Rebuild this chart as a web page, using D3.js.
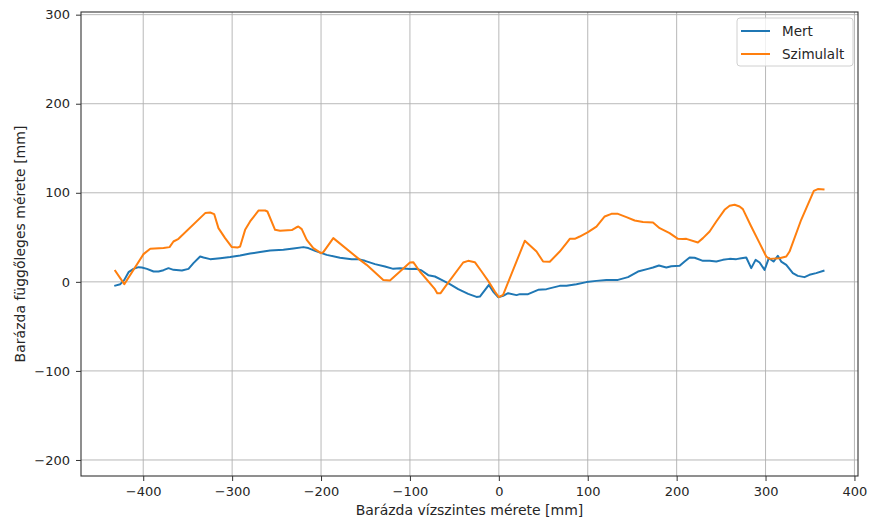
<!DOCTYPE html>
<html>
<head>
<meta charset="utf-8">
<script src="https://cdn.jsdelivr.net/npm/d3@7"></script>
<style>
  body { margin: 0; background: #fff; }
  text { font-family: "DejaVu Sans", sans-serif; fill: #262626; }
</style>
</head>
<body>
<svg id="chart" width="870" height="520"></svg>
<script>
// Data
const mertX = [-431.5,-425.8,-421.3,-416.5,-410.9,-405.3,-401.5,-395.8,-388.4,-382.8,-377.2,-371.6,-366,-356.5,-349.1,-343.5,-336,-332.2,-324.7,-313.5,-302.2,-291,-279.8,-268.5,-257.3,-242.4,-231.1,-219.9,-214.3,-206.7,-193.6,-178.7,-165.5,-158.1,-150.6,-139.3,-128.1,-118.8,-111.2,-100,-92.5,-86.9,-79.4,-71.9,-64.4,-55.1,-45.7,-34.5,-25.1,-21.3,-11.2,-6.4,-0.8,4.8,10.4,19.9,23.6,32.9,44.2,53.6,68.5,76.1,87.3,98.5,109.8,121,134,145.3,156.5,167.8,173.4,180.1,188.4,194,203.4,209,214.6,220.2,229.6,237.1,244.6,252,259.6,267.1,272.7,278.3,283.9,288.8,293.3,298.9,303.7,309,313.8,317.6,323.3,330.7,336.3,343.8,349.4,356.9,365.2];
const mertY = [-4.2,-2.6,2.2,10.9,14.6,16.5,16.1,14.6,11.6,11.6,13.1,15.4,13.5,12.7,14.6,21,28.4,27.3,25.5,26.6,27.8,29.6,31.8,33.4,35.2,36,37.4,39,37.9,34.8,30.3,27,25.5,25.5,23.6,19.9,17.2,14.6,15.4,14.3,14.6,12.7,7.5,6,2.2,-2.6,-8.2,-13.5,-16.9,-16.5,-3.4,-10.9,-17.2,-15.7,-12.7,-14.9,-13.8,-13.8,-9,-8.2,-4.5,-4.5,-2.6,-0.3,1.1,2.2,2.2,5.3,11.6,14.6,16.1,18.3,16.1,17.6,18,22.8,27.3,27,23.6,23.6,22.8,24.7,25.8,25.5,26.6,27.3,15.4,24.7,21.7,13.5,26.6,22.8,29.2,22.8,19.1,9.8,6.7,5.3,7.9,9.8,12.4];

const szimX = [-431.5,-421.3,-399.7,-392.1,-377.2,-370.4,-366,-360.3,-330.3,-324.7,-320.2,-315.4,-307.9,-300.3,-294,-291,-285.4,-279.8,-270.4,-262.9,-260.3,-251.7,-246.1,-232.9,-228.1,-225.5,-221.7,-216.1,-208.7,-200,-197.4,-186.2,-156.2,-148.7,-130,-122.5,-111.2,-100,-96.3,-88.8,-71.9,-69.3,-65.5,-60.7,-40.1,-34.5,-27,-19.4,-12,-4.5,0,4.8,29.2,42.4,49.8,57.3,68.5,76.1,79.8,85.4,91,100.3,109.8,119.1,126.6,134,143.5,152.8,162.1,173.4,180.9,192.1,201.5,207.1,210.9,223.9,229.6,237.1,244.6,253.9,259.6,265.2,270.8,274.5,283.9,293.3,300.8,304.5,315.7,323.3,327,340.1,354.3,358.8,365.2];
const szimY = [12.4,-2.6,31.1,37.1,37.9,39,45.3,48.3,77.2,77.9,76.1,60.3,49.1,39,38.5,39.7,58.4,67.8,80,80.1,79,58.4,57.3,58.1,61,62.1,59.2,47.2,37.9,32.2,33.4,49.1,24.7,19.1,2.2,1.5,11.6,21.7,22.1,11.6,-8.2,-12.7,-12.7,-6,21.7,23.6,22.1,11.6,1.1,-10.9,-17.2,-14.6,46.1,34,22.8,22.5,34,43.5,48.3,48.3,50.9,55.8,62.1,73.4,76.4,76.4,72.7,68.9,67.1,66.6,60.3,54.7,48.3,48,48.3,44.2,49.1,56.5,67.8,80.9,85.4,86.5,84.6,81.7,62.1,43.5,28.4,25.8,26.6,28.4,34,69.7,102.2,104.2,103.7];

const xTicks = [-400,-300,-200,-100,0,100,200,300,400];
const yTicks = [-200,-100,0,100,200,300];
const seriesNames = ["Mert","Szimulalt"];
const seriesColors = ["#1f77b4","#ff7f0e"];
const xLabel = "Barázda vízszintes mérete [mm]";
const yLabel = "Barázda függőleges mérete [mm]";

const svg = d3.select("#chart");
const L = 81, R = 858, T = 12, B = 476;
const x = d3.scaleLinear().domain([-470, 404]).range([L, R]);
const y = d3.scaleLinear().domain([-218, 303]).range([B, T]);

// grid
const grid = svg.append("g");
grid.selectAll(".gx").data(xTicks).join("line")
  .attr("x1", d => x(d)).attr("x2", d => x(d)).attr("y1", T).attr("y2", B)
  .attr("stroke", "#b0b0b0").attr("stroke-width", 0.9);
grid.selectAll(".gy").data(yTicks).join("line")
  .attr("y1", d => y(d)).attr("y2", d => y(d)).attr("x1", L).attr("x2", R)
  .attr("stroke", "#b0b0b0").attr("stroke-width", 0.9);

// lines
const series = [
  {name: seriesNames[0], xs: mertX, ys: mertY, color: seriesColors[0]},
  {name: seriesNames[1], xs: szimX, ys: szimY, color: seriesColors[1]}
];
const line = d3.line().x(d => x(d[0])).y(d => y(d[1]));
svg.append("clipPath").attr("id", "clip").append("rect")
  .attr("x", L).attr("y", T).attr("width", R - L).attr("height", B - T);
series.forEach(s => {
  svg.append("path")
    .attr("clip-path", "url(#clip)")
    .attr("d", line(s.xs.map((v, i) => [v, s.ys[i]])))
    .attr("fill", "none").attr("stroke", s.color).attr("stroke-width", 2)
    .attr("stroke-linejoin", "round").attr("stroke-linecap", "square");
});

// axes
const fmt = d => d < 0 ? "\u2212" + Math.abs(d) : d;
const xAxis = d3.axisBottom(x).tickValues(xTicks).tickSize(5).tickPadding(6).tickFormat(fmt);
const yAxis = d3.axisLeft(y).tickValues(yTicks).tickSize(5).tickPadding(6).tickFormat(fmt);
const gx = svg.append("g").attr("transform", `translate(0,${B})`).call(xAxis);
const gy = svg.append("g").attr("transform", `translate(${L},0)`).call(yAxis);
[gx, gy].forEach(g => {
  g.select(".domain").remove();
  g.selectAll(".tick line").attr("stroke", "#333").attr("stroke-width", 1);
  g.selectAll(".tick text").attr("font-size", 13).attr("fill", "#262626")
    .style("font-family", "'DejaVu Sans', sans-serif");
});

// frame
svg.append("rect").attr("x", L).attr("y", T).attr("width", R - L).attr("height", B - T)
  .attr("fill", "none").attr("stroke", "#333").attr("stroke-width", 1.1);

// labels
svg.append("text").attr("x", (L + R) / 2).attr("y", 515).attr("text-anchor", "middle")
  .attr("font-size", 14).text(xLabel);
svg.append("text").attr("transform", `translate(25,${(T + B) / 2}) rotate(-90)`)
  .attr("text-anchor", "middle").attr("font-size", 14).text(yLabel);

// legend
const lg = svg.append("g");
lg.append("rect").attr("x", 737).attr("y", 18).attr("width", 116).attr("height", 48)
  .attr("rx", 3).attr("fill", "#fff").attr("fill-opacity", 0.8)
  .attr("stroke", "#d0d0d0").attr("stroke-width", 1);
series.forEach((s, i) => {
  const yy = 31 + i * 23;
  lg.append("line").attr("x1", 741).attr("x2", 770).attr("y1", yy).attr("y2", yy)
    .attr("stroke", s.color).attr("stroke-width", 2);
  lg.append("text").attr("x", 782).attr("y", yy + 5).attr("font-size", 13.5).text(s.name);
});
</script>
</body>
</html>
